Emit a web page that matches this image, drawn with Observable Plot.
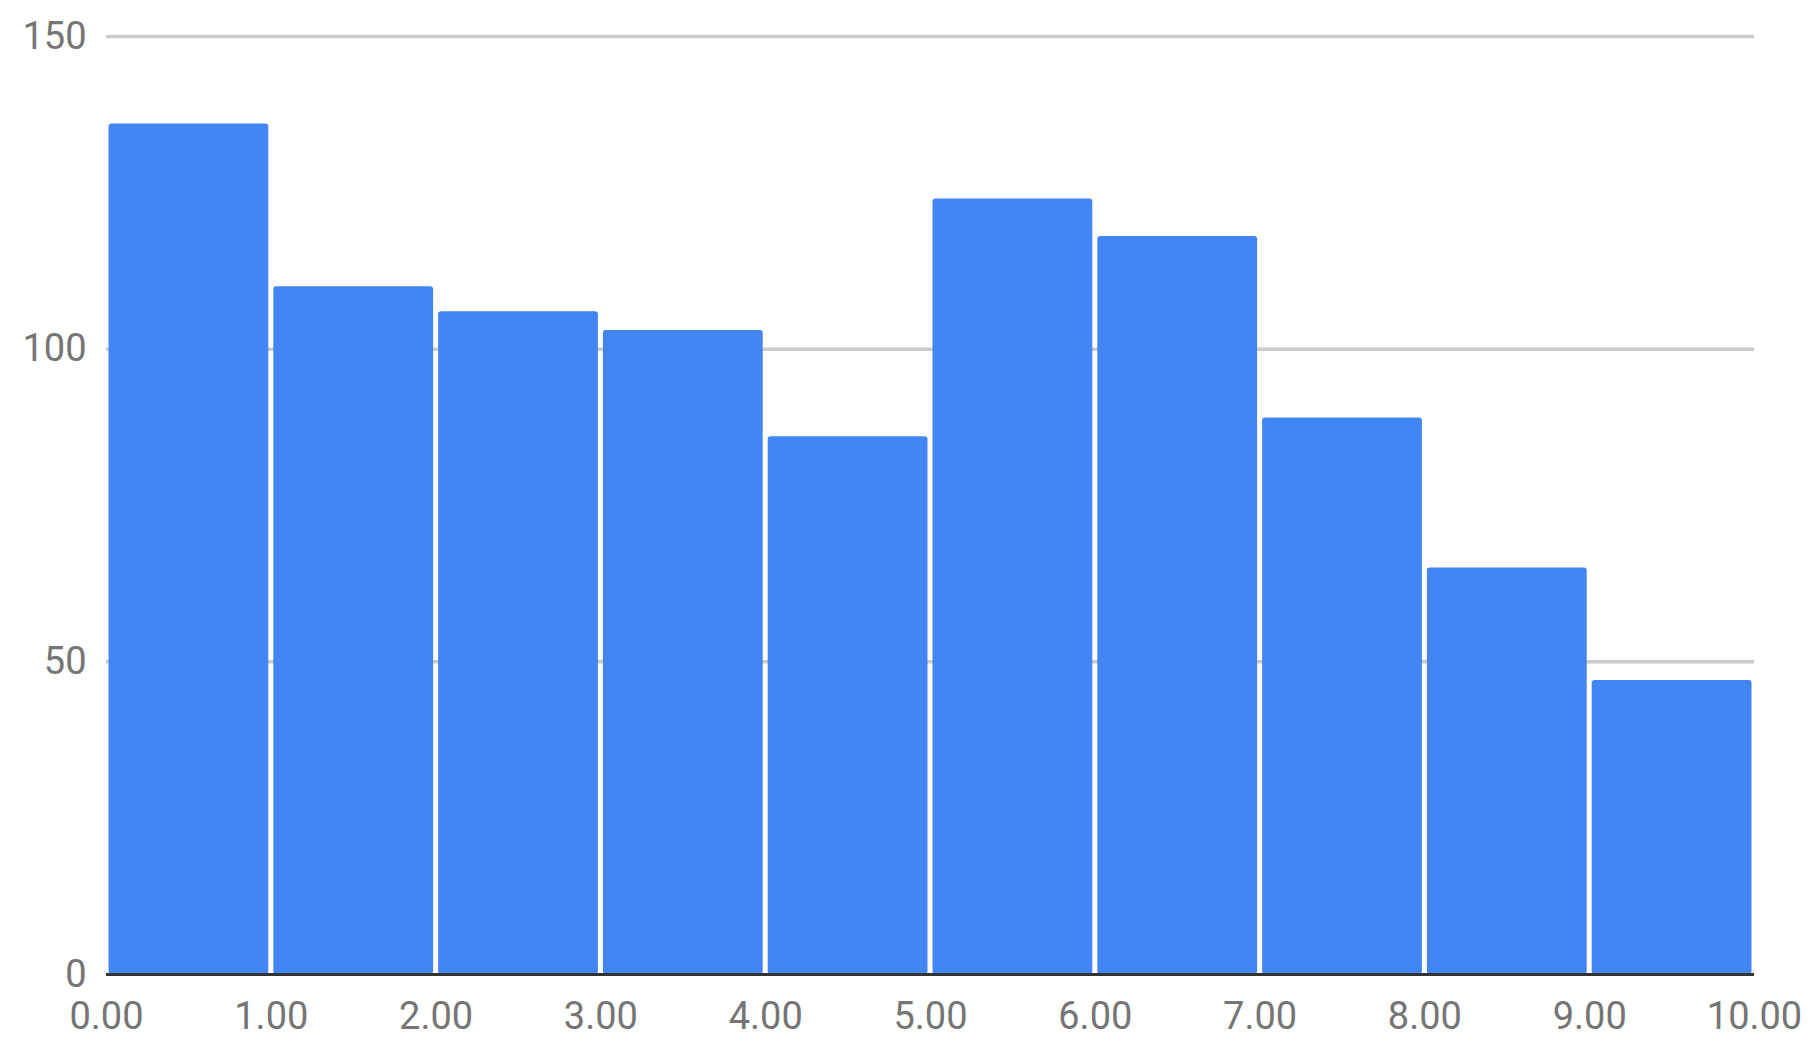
<!DOCTYPE html>
<html>
<head>
<meta charset="utf-8">
<script src="https://cdn.jsdelivr.net/npm/d3@7"></script>
<script src="https://cdn.jsdelivr.net/npm/@observablehq/plot@0.6"></script>
<style>
  html, body { margin: 0; padding: 0; background: #fff; }
  #chart svg { display: block; }
</style>
</head>
<body>
<div id="chart"></div>
<script>
const binStarts = [0, 1, 2, 3, 4, 5, 6, 7, 8, 9];
const binEnds   = [1, 2, 3, 4, 5, 6, 7, 8, 9, 10];
const counts    = [136, 110, 106, 103, 86, 124, 118, 89, 65, 47];
const xTicks    = [0, 1, 2, 3, 4, 5, 6, 7, 8, 9, 10];
const yTicks    = [0, 50, 100, 150];

const data = binStarts.map((s, i) => ({x1: s, x2: binEnds[i], count: counts[i]}));

const chart = Plot.plot({
  width: 1815,
  height: 1054,
  marginLeft: 106,
  marginRight: 61,
  marginTop: 36,
  marginBottom: 80,
  style: {fontFamily: "Roboto, sans-serif", fontSize: "38px", color: "#757575", background: "#fff"},
  x: {domain: [0, 10], ticks: xTicks, tickFormat: d3.format(".2f"), tickSize: 0, tickPadding: 28, label: null},
  y: {domain: [0, 150], ticks: yTicks, tickSize: 0, tickPadding: 20, label: null},
  marks: [
    Plot.ruleY(yTicks.filter(d => d > 0), {stroke: "#cccccc", strokeWidth: 3.5}),
    Plot.rectY(data, {x1: "x1", x2: "x2", y: "count", fill: "#4285f4", insetLeft: 2.5, insetRight: 2.5, rx: 3}),
    Plot.ruleY([0], {stroke: "#333333", strokeWidth: 3})
  ]
});
document.getElementById("chart").appendChild(chart);
</script>
</body>
</html>
